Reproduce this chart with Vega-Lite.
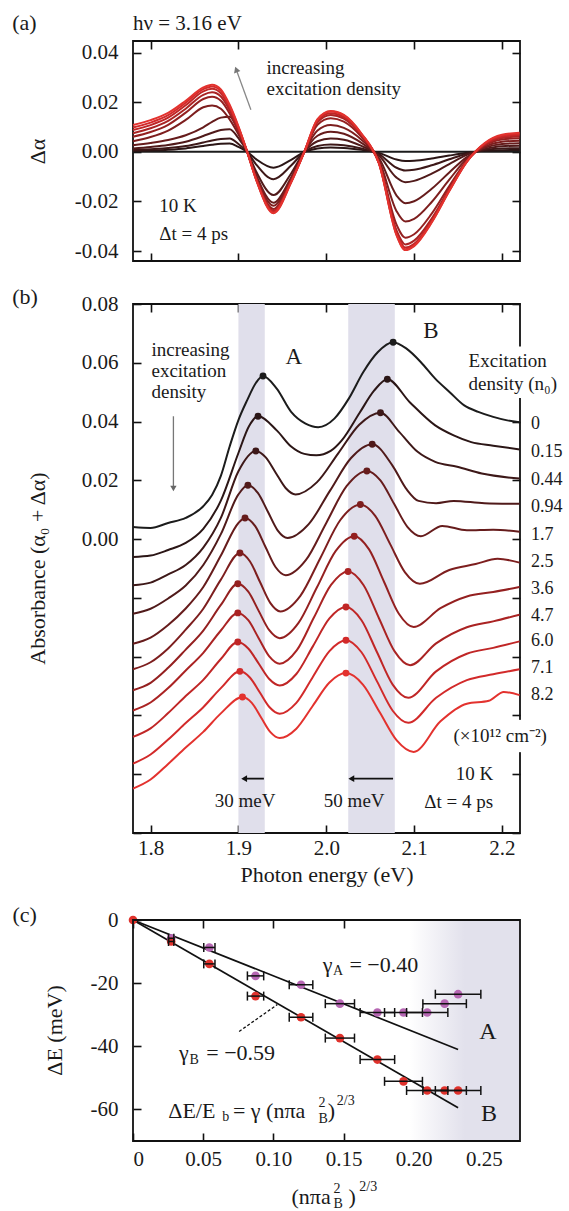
{
"$schema":"https://vega.github.io/schema/vega-lite/v6.json",
"autosize":{"type":"pad"},
"padding":{"left":11,"top":10,"right":5,"bottom":3},
"background":"white",
"config":{
"font":"Liberation Serif",
"view":{"stroke":"#111111","strokeWidth":1.8},
"axis":{"grid":false,"domain":false,"ticks":true,"tickColor":"#111111","tickWidth":1.6,"tickSize":-8,"labelFont":"Liberation Serif","labelFontSize":21,"labelColor":"#1a1a1a","titleFont":"Liberation Serif","titleFontSize":22,"titleFontWeight":"normal","titleColor":"#1a1a1a"},
"axisLeft":{"labelPadding":23},
"axisBottom":{"labelPadding":12},
"text":{"font":"Liberation Serif","color":"#1a1a1a"}
},
"datasets":{
"a":[
{"k":"0","x":1.78,"y":0},{"k":"0","x":2.2205,"y":0},
{"k":"0.15","x":1.78,"y":0.0003},{"k":"0.15","x":1.80,"y":0.00055},{"k":"0.15","x":1.82,"y":0.00086},{"k":"0.15","x":1.84,"y":0.00139},{"k":"0.15","x":1.86,"y":0.0024},{"k":"0.15","x":1.87,"y":0.0029},{"k":"0.15","x":1.88,"y":0.0033},{"k":"0.15","x":1.89,"y":0.0034},{"k":"0.15","x":1.90,"y":0.0020},{"k":"0.15","x":1.91,"y":0},{"k":"0.15","x":1.92,"y":-0.0029},{"k":"0.15","x":1.94,"y":-0.0064},{"k":"0.15","x":1.96,"y":-0.0032},{"k":"0.15","x":1.975,"y":0},{"k":"0.15","x":1.99,"y":0.0014},{"k":"0.15","x":2.005,"y":0.0018},{"k":"0.15","x":2.02,"y":0.0016},{"k":"0.15","x":2.04,"y":0.0008},{"k":"0.15","x":2.06,"y":-0.0004},{"k":"0.15","x":2.08,"y":-0.0031},{"k":"0.15","x":2.09,"y":-0.0037},{"k":"0.15","x":2.10,"y":-0.0036},{"k":"0.15","x":2.12,"y":-0.0027},{"k":"0.15","x":2.14,"y":-0.0015},{"k":"0.15","x":2.16,"y":-0.0004},{"k":"0.15","x":2.18,"y":0.0004},{"k":"0.15","x":2.20,"y":0.0007},{"k":"0.15","x":2.22,"y":0.0008},
{"k":"0.44","x":1.78,"y":0.0007},{"k":"0.44","x":1.80,"y":0.00108},{"k":"0.44","x":1.82,"y":0.00155},{"k":"0.44","x":1.84,"y":0.00235},{"k":"0.44","x":1.86,"y":0.0038},{"k":"0.44","x":1.87,"y":0.0046},{"k":"0.44","x":1.88,"y":0.0052},{"k":"0.44","x":1.89,"y":0.0054},{"k":"0.44","x":1.90,"y":0.0032},{"k":"0.44","x":1.91,"y":0},{"k":"0.44","x":1.92,"y":-0.0050},{"k":"0.44","x":1.94,"y":-0.0110},{"k":"0.44","x":1.96,"y":-0.0055},{"k":"0.44","x":1.975,"y":0},{"k":"0.44","x":1.99,"y":0.0024},{"k":"0.44","x":2.005,"y":0.0030},{"k":"0.44","x":2.02,"y":0.0027},{"k":"0.44","x":2.04,"y":0.00135},{"k":"0.44","x":2.06,"y":-0.0009},{"k":"0.44","x":2.08,"y":-0.0064},{"k":"0.44","x":2.09,"y":-0.0075},{"k":"0.44","x":2.10,"y":-0.0072},{"k":"0.44","x":2.12,"y":-0.0054},{"k":"0.44","x":2.14,"y":-0.0030},{"k":"0.44","x":2.16,"y":-0.00075},{"k":"0.44","x":2.18,"y":0.0007},{"k":"0.44","x":2.20,"y":0.00135},{"k":"0.44","x":2.22,"y":0.0015},
{"k":"0.94","x":1.78,"y":0.0014},{"k":"0.94","x":1.80,"y":0.0020},{"k":"0.94","x":1.82,"y":0.0028},{"k":"0.94","x":1.84,"y":0.0041},{"k":"0.94","x":1.86,"y":0.0064},{"k":"0.94","x":1.87,"y":0.0077},{"k":"0.94","x":1.88,"y":0.0088},{"k":"0.94","x":1.89,"y":0.0091},{"k":"0.94","x":1.90,"y":0.0055},{"k":"0.94","x":1.91,"y":0},{"k":"0.94","x":1.92,"y":-0.0078},{"k":"0.94","x":1.94,"y":-0.0174},{"k":"0.94","x":1.96,"y":-0.0087},{"k":"0.94","x":1.975,"y":0},{"k":"0.94","x":1.99,"y":0.0043},{"k":"0.94","x":2.005,"y":0.0054},{"k":"0.94","x":2.02,"y":0.0049},{"k":"0.94","x":2.04,"y":0.0024},{"k":"0.94","x":2.06,"y":-0.0015},{"k":"0.94","x":2.08,"y":-0.0104},{"k":"0.94","x":2.09,"y":-0.0122},{"k":"0.94","x":2.10,"y":-0.0117},{"k":"0.94","x":2.12,"y":-0.0088},{"k":"0.94","x":2.14,"y":-0.0049},{"k":"0.94","x":2.16,"y":-0.0012},{"k":"0.94","x":2.18,"y":0.0011},{"k":"0.94","x":2.20,"y":0.0023},{"k":"0.94","x":2.22,"y":0.0025},
{"k":"1.7","x":1.78,"y":0.0027},{"k":"1.7","x":1.80,"y":0.0036},{"k":"1.7","x":1.82,"y":0.0048},{"k":"1.7","x":1.84,"y":0.0067},{"k":"1.7","x":1.86,"y":0.0099},{"k":"1.7","x":1.87,"y":0.0121},{"k":"1.7","x":1.88,"y":0.0138},{"k":"1.7","x":1.89,"y":0.0142},{"k":"1.7","x":1.90,"y":0.0085},{"k":"1.7","x":1.91,"y":0},{"k":"1.7","x":1.92,"y":-0.0092},{"k":"1.7","x":1.94,"y":-0.0205},{"k":"1.7","x":1.96,"y":-0.0103},{"k":"1.7","x":1.975,"y":0},{"k":"1.7","x":1.99,"y":0.0065},{"k":"1.7","x":2.005,"y":0.0081},{"k":"1.7","x":2.02,"y":0.0073},{"k":"1.7","x":2.04,"y":0.0036},{"k":"1.7","x":2.06,"y":-0.0025},{"k":"1.7","x":2.08,"y":-0.0176},{"k":"1.7","x":2.09,"y":-0.0207},{"k":"1.7","x":2.10,"y":-0.0199},{"k":"1.7","x":2.12,"y":-0.0149},{"k":"1.7","x":2.14,"y":-0.0083},{"k":"1.7","x":2.16,"y":-0.0021},{"k":"1.7","x":2.18,"y":0.0016},{"k":"1.7","x":2.20,"y":0.0032},{"k":"1.7","x":2.22,"y":0.0035},
{"k":"2.5","x":1.78,"y":0.0043},{"k":"2.5","x":1.80,"y":0.0060},{"k":"2.5","x":1.82,"y":0.0086},{"k":"2.5","x":1.84,"y":0.0129},{"k":"2.5","x":1.86,"y":0.0180},{"k":"2.5","x":1.87,"y":0.0187},{"k":"2.5","x":1.88,"y":0.0174},{"k":"2.5","x":1.89,"y":0.0131},{"k":"2.5","x":1.90,"y":0.0071},{"k":"2.5","x":1.91,"y":0},{"k":"2.5","x":1.92,"y":-0.0098},{"k":"2.5","x":1.94,"y":-0.0217},{"k":"2.5","x":1.96,"y":-0.0109},{"k":"2.5","x":1.975,"y":0},{"k":"2.5","x":1.99,"y":0.0086},{"k":"2.5","x":2.005,"y":0.0108},{"k":"2.5","x":2.02,"y":0.0097},{"k":"2.5","x":2.04,"y":0.0049},{"k":"2.5","x":2.06,"y":-0.0034},{"k":"2.5","x":2.08,"y":-0.0239},{"k":"2.5","x":2.09,"y":-0.0281},{"k":"2.5","x":2.10,"y":-0.0270},{"k":"2.5","x":2.12,"y":-0.0202},{"k":"2.5","x":2.14,"y":-0.0112},{"k":"2.5","x":2.16,"y":-0.0028},{"k":"2.5","x":2.18,"y":0.0020},{"k":"2.5","x":2.20,"y":0.0041},{"k":"2.5","x":2.22,"y":0.0045},
{"k":"3.6","x":1.78,"y":0.0061},{"k":"3.6","x":1.80,"y":0.0080},{"k":"3.6","x":1.82,"y":0.0109},{"k":"3.6","x":1.84,"y":0.0158},{"k":"3.6","x":1.86,"y":0.0213},{"k":"3.6","x":1.87,"y":0.0222},{"k":"3.6","x":1.88,"y":0.0206},{"k":"3.6","x":1.89,"y":0.0155},{"k":"3.6","x":1.90,"y":0.0084},{"k":"3.6","x":1.91,"y":0},{"k":"3.6","x":1.92,"y":-0.0104},{"k":"3.6","x":1.94,"y":-0.0230},{"k":"3.6","x":1.96,"y":-0.0115},{"k":"3.6","x":1.975,"y":0},{"k":"3.6","x":1.99,"y":0.0109},{"k":"3.6","x":2.005,"y":0.0136},{"k":"3.6","x":2.02,"y":0.0122},{"k":"3.6","x":2.04,"y":0.0061},{"k":"3.6","x":2.06,"y":-0.0042},{"k":"3.6","x":2.08,"y":-0.0294},{"k":"3.6","x":2.09,"y":-0.0346},{"k":"3.6","x":2.10,"y":-0.0332},{"k":"3.6","x":2.12,"y":-0.0249},{"k":"3.6","x":2.14,"y":-0.0138},{"k":"3.6","x":2.16,"y":-0.0035},{"k":"3.6","x":2.18,"y":0.0025},{"k":"3.6","x":2.20,"y":0.0050},{"k":"3.6","x":2.22,"y":0.0055},
{"k":"4.7","x":1.78,"y":0.0075},{"k":"4.7","x":1.80,"y":0.0095},{"k":"4.7","x":1.82,"y":0.0125},{"k":"4.7","x":1.84,"y":0.0174},{"k":"4.7","x":1.86,"y":0.0230},{"k":"4.7","x":1.87,"y":0.0240},{"k":"4.7","x":1.88,"y":0.0223},{"k":"4.7","x":1.89,"y":0.0168},{"k":"4.7","x":1.90,"y":0.0091},{"k":"4.7","x":1.91,"y":0},{"k":"4.7","x":1.92,"y":-0.0107},{"k":"4.7","x":1.94,"y":-0.0237},{"k":"4.7","x":1.96,"y":-0.0119},{"k":"4.7","x":1.975,"y":0},{"k":"4.7","x":1.99,"y":0.0119},{"k":"4.7","x":2.005,"y":0.0149},{"k":"4.7","x":2.02,"y":0.0134},{"k":"4.7","x":2.04,"y":0.0067},{"k":"4.7","x":2.06,"y":-0.0045},{"k":"4.7","x":2.08,"y":-0.0317},{"k":"4.7","x":2.09,"y":-0.0373},{"k":"4.7","x":2.10,"y":-0.0358},{"k":"4.7","x":2.12,"y":-0.0269},{"k":"4.7","x":2.14,"y":-0.0149},{"k":"4.7","x":2.16,"y":-0.0037},{"k":"4.7","x":2.18,"y":0.0028},{"k":"4.7","x":2.20,"y":0.0056},{"k":"4.7","x":2.22,"y":0.0062},
{"k":"6.0","x":1.78,"y":0.0088},{"k":"6.0","x":1.80,"y":0.0108},{"k":"6.0","x":1.82,"y":0.0138},{"k":"6.0","x":1.84,"y":0.0188},{"k":"6.0","x":1.86,"y":0.0244},{"k":"6.0","x":1.87,"y":0.0254},{"k":"6.0","x":1.88,"y":0.0236},{"k":"6.0","x":1.89,"y":0.0178},{"k":"6.0","x":1.90,"y":0.0097},{"k":"6.0","x":1.91,"y":0},{"k":"6.0","x":1.92,"y":-0.0108},{"k":"6.0","x":1.94,"y":-0.0240},{"k":"6.0","x":1.96,"y":-0.0120},{"k":"6.0","x":1.975,"y":0},{"k":"6.0","x":1.99,"y":0.0125},{"k":"6.0","x":2.005,"y":0.0156},{"k":"6.0","x":2.02,"y":0.0140},{"k":"6.0","x":2.04,"y":0.0070},{"k":"6.0","x":2.06,"y":-0.0046},{"k":"6.0","x":2.08,"y":-0.0328},{"k":"6.0","x":2.09,"y":-0.0386},{"k":"6.0","x":2.10,"y":-0.0371},{"k":"6.0","x":2.12,"y":-0.0278},{"k":"6.0","x":2.14,"y":-0.0154},{"k":"6.0","x":2.16,"y":-0.0039},{"k":"6.0","x":2.18,"y":0.0031},{"k":"6.0","x":2.20,"y":0.0061},{"k":"6.0","x":2.22,"y":0.0068},
{"k":"7.1","x":1.78,"y":0.0098},{"k":"7.1","x":1.80,"y":0.0118},{"k":"7.1","x":1.82,"y":0.0148},{"k":"7.1","x":1.84,"y":0.0198},{"k":"7.1","x":1.86,"y":0.0253},{"k":"7.1","x":1.87,"y":0.0264},{"k":"7.1","x":1.88,"y":0.0246},{"k":"7.1","x":1.89,"y":0.0185},{"k":"7.1","x":1.90,"y":0.0100},{"k":"7.1","x":1.91,"y":0},{"k":"7.1","x":1.92,"y":-0.0110},{"k":"7.1","x":1.94,"y":-0.0244},{"k":"7.1","x":1.96,"y":-0.0122},{"k":"7.1","x":1.975,"y":0},{"k":"7.1","x":1.99,"y":0.0130},{"k":"7.1","x":2.005,"y":0.0163},{"k":"7.1","x":2.02,"y":0.0147},{"k":"7.1","x":2.04,"y":0.0073},{"k":"7.1","x":2.06,"y":-0.0047},{"k":"7.1","x":2.08,"y":-0.0334},{"k":"7.1","x":2.09,"y":-0.0393},{"k":"7.1","x":2.10,"y":-0.0377},{"k":"7.1","x":2.12,"y":-0.0283},{"k":"7.1","x":2.14,"y":-0.0157},{"k":"7.1","x":2.16,"y":-0.0039},{"k":"7.1","x":2.18,"y":0.0033},{"k":"7.1","x":2.20,"y":0.0066},{"k":"7.1","x":2.22,"y":0.0073},
{"k":"8.2","x":1.78,"y":0.0108},{"k":"8.2","x":1.80,"y":0.0128},{"k":"8.2","x":1.82,"y":0.0157},{"k":"8.2","x":1.84,"y":0.0206},{"k":"8.2","x":1.86,"y":0.0260},{"k":"8.2","x":1.87,"y":0.0271},{"k":"8.2","x":1.88,"y":0.0252},{"k":"8.2","x":1.89,"y":0.0190},{"k":"8.2","x":1.90,"y":0.0103},{"k":"8.2","x":1.91,"y":0},{"k":"8.2","x":1.92,"y":-0.0111},{"k":"8.2","x":1.94,"y":-0.0247},{"k":"8.2","x":1.96,"y":-0.0124},{"k":"8.2","x":1.975,"y":0},{"k":"8.2","x":1.99,"y":0.0132},{"k":"8.2","x":2.005,"y":0.0165},{"k":"8.2","x":2.02,"y":0.0149},{"k":"8.2","x":2.04,"y":0.0074},{"k":"8.2","x":2.06,"y":-0.0048},{"k":"8.2","x":2.08,"y":-0.0337},{"k":"8.2","x":2.09,"y":-0.0396},{"k":"8.2","x":2.10,"y":-0.0380},{"k":"8.2","x":2.12,"y":-0.0285},{"k":"8.2","x":2.14,"y":-0.0158},{"k":"8.2","x":2.16,"y":-0.0040},{"k":"8.2","x":2.18,"y":0.0035},{"k":"8.2","x":2.20,"y":0.0069},{"k":"8.2","x":2.22,"y":0.0077}
],
"b":[
{"k":"0","x":1.78,"y":0.0041},{"k":"0","x":1.80,"y":0.0038},{"k":"0","x":1.82,"y":0.0055},{"k":"0","x":1.84,"y":0.0072},{"k":"0","x":1.86,"y":0.0112},{"k":"0","x":1.87,"y":0.0150},{"k":"0","x":1.88,"y":0.0215},{"k":"0","x":1.89,"y":0.0315},{"k":"0","x":1.90,"y":0.0405},{"k":"0","x":1.91,"y":0.0473},{"k":"0","x":1.92,"y":0.0532},{"k":"0","x":1.928,"y":0.0555},{"k":"0","x":1.9436,"y":0.0512},{"k":"0","x":1.96,"y":0.0433},{"k":"0","x":1.9764,"y":0.0393},{"k":"0","x":1.9908,"y":0.0381},{"k":"0","x":2.0092,"y":0.0410},{"k":"0","x":2.0256,"y":0.0478},{"k":"0","x":2.042,"y":0.0568},{"k":"0","x":2.0585,"y":0.0636},{"k":"0","x":2.076,"y":0.0670},{"k":"0","x":2.0913,"y":0.0648},{"k":"0","x":2.1077,"y":0.0602},{"k":"0","x":2.124,"y":0.0546},{"k":"0","x":2.1405,"y":0.0500},{"k":"0","x":2.157,"y":0.0455},{"k":"0","x":2.173,"y":0.0433},{"k":"0","x":2.19,"y":0.0416},{"k":"0","x":2.206,"y":0.0404},{"k":"0","x":2.22,"y":0.0398},
{"k":"0.15","x":1.78,"y":-0.0061},{"k":"0.15","x":1.80,"y":-0.0056},{"k":"0.15","x":1.82,"y":-0.0037},{"k":"0.15","x":1.84,"y":-0.0013},{"k":"0.15","x":1.86,"y":0.0035},{"k":"0.15","x":1.88,"y":0.0131},{"k":"0.15","x":1.90,"y":0.0293},{"k":"0.15","x":1.912,"y":0.0384},{"k":"0.15","x":1.9223,"y":0.0418},{"k":"0.15","x":1.9436,"y":0.0370},{"k":"0.15","x":1.96,"y":0.0315},{"k":"0.15","x":1.975,"y":0.0290},{"k":"0.15","x":1.9887,"y":0.0285},{"k":"0.15","x":2.005,"y":0.0300},{"k":"0.15","x":2.0174,"y":0.0335},{"k":"0.15","x":2.038,"y":0.0430},{"k":"0.15","x":2.0544,"y":0.0505},{"k":"0.15","x":2.0695,"y":0.0544},{"k":"0.15","x":2.095,"y":0.0466},{"k":"0.15","x":2.124,"y":0.0387},{"k":"0.15","x":2.145,"y":0.0353},{"k":"0.15","x":2.165,"y":0.0330},{"k":"0.15","x":2.19,"y":0.0318},{"k":"0.15","x":2.22,"y":0.0305},
{"k":"0.44","x":1.78,"y":-0.0157},{"k":"0.44","x":1.80,"y":-0.0148},{"k":"0.44","x":1.82,"y":-0.0120},{"k":"0.44","x":1.84,"y":-0.0088},{"k":"0.44","x":1.86,"y":-0.0029},{"k":"0.44","x":1.88,"y":0.0072},{"k":"0.44","x":1.90,"y":0.0231},{"k":"0.44","x":1.9198,"y":0.0300},{"k":"0.44","x":1.9311,"y":0.0278},{"k":"0.44","x":1.9424,"y":0.0226},{"k":"0.44","x":1.9537,"y":0.0174},{"k":"0.44","x":1.965,"y":0.0152},{"k":"0.44","x":1.9892,"y":0.0193},{"k":"0.44","x":2.0134,"y":0.0291},{"k":"0.44","x":2.0375,"y":0.0389},{"k":"0.44","x":2.0617,"y":0.0430},{"k":"0.44","x":2.083,"y":0.0365},{"k":"0.44","x":2.104,"y":0.0297},{"k":"0.44","x":2.124,"y":0.0263},{"k":"0.44","x":2.149,"y":0.0246},{"k":"0.44","x":2.177,"y":0.0223},{"k":"0.44","x":2.22,"y":0.0206},
{"k":"0.94","x":1.78,"y":-0.0254},{"k":"0.94","x":1.80,"y":-0.0237},{"k":"0.94","x":1.82,"y":-0.0202},{"k":"0.94","x":1.84,"y":-0.0158},{"k":"0.94","x":1.86,"y":-0.0088},{"k":"0.94","x":1.88,"y":0.0017},{"k":"0.94","x":1.90,"y":0.0152},{"k":"0.94","x":1.9108,"y":0.0183},{"k":"0.94","x":1.9221,"y":0.0157},{"k":"0.94","x":1.9334,"y":0.0094},{"k":"0.94","x":1.9446,"y":0.0030},{"k":"0.94","x":1.9559,"y":0.0004},{"k":"0.94","x":1.98,"y":0.0051},{"k":"0.94","x":2.0041,"y":0.0164},{"k":"0.94","x":2.0282,"y":0.0276},{"k":"0.94","x":2.0523,"y":0.0323},{"k":"0.94","x":2.075,"y":0.0252},{"k":"0.94","x":2.0913,"y":0.0170},{"k":"0.94","x":2.105,"y":0.0130},{"k":"0.94","x":2.125,"y":0.0122},{"k":"0.94","x":2.145,"y":0.0130},{"k":"0.94","x":2.18,"y":0.0122},{"k":"0.94","x":2.22,"y":0.0120},
{"k":"1.7","x":1.78,"y":-0.0356},{"k":"1.7","x":1.80,"y":-0.0335},{"k":"1.7","x":1.82,"y":-0.0292},{"k":"1.7","x":1.84,"y":-0.0236},{"k":"1.7","x":1.86,"y":-0.0163},{"k":"1.7","x":1.88,"y":-0.0056},{"k":"1.7","x":1.90,"y":0.0055},{"k":"1.7","x":1.9075,"y":0.0072},{"k":"1.7","x":1.9191,"y":0.0044},{"k":"1.7","x":1.9307,"y":-0.0026},{"k":"1.7","x":1.9422,"y":-0.0095},{"k":"1.7","x":1.9538,"y":-0.0123},{"k":"1.7","x":1.9769,"y":-0.0071},{"k":"1.7","x":2.0,"y":0.0055},{"k":"1.7","x":2.0231,"y":0.0180},{"k":"1.7","x":2.0462,"y":0.0232},{"k":"1.7","x":2.0616,"y":0.0200},{"k":"1.7","x":2.077,"y":0.0121},{"k":"1.7","x":2.0923,"y":0.0042},{"k":"1.7","x":2.1077,"y":0.0010},{"k":"1.7","x":2.132,"y":0.0045},{"k":"1.7","x":2.16,"y":0.0030},{"k":"1.7","x":2.19,"y":0.0032},{"k":"1.7","x":2.22,"y":0.0025},
{"k":"2.5","x":1.78,"y":-0.0443},{"k":"2.5","x":1.80,"y":-0.0419},{"k":"2.5","x":1.82,"y":-0.0372},{"k":"2.5","x":1.84,"y":-0.0308},{"k":"2.5","x":1.86,"y":-0.0237},{"k":"2.5","x":1.88,"y":-0.0138},{"k":"2.5","x":1.9017,"y":-0.0047},{"k":"2.5","x":1.9132,"y":-0.0076},{"k":"2.5","x":1.9247,"y":-0.0147},{"k":"2.5","x":1.9362,"y":-0.0217},{"k":"2.5","x":1.9477,"y":-0.0246},{"k":"2.5","x":1.9705,"y":-0.0193},{"k":"2.5","x":1.9933,"y":-0.0064},{"k":"2.5","x":2.016,"y":0.0065},{"k":"2.5","x":2.0388,"y":0.0118},{"k":"2.5","x":2.0557,"y":0.0079},{"k":"2.5","x":2.0727,"y":-0.0017},{"k":"2.5","x":2.0896,"y":-0.0113},{"k":"2.5","x":2.1065,"y":-0.0152},{"k":"2.5","x":2.14,"y":-0.0105},{"k":"2.5","x":2.17,"y":-0.0085},{"k":"2.5","x":2.195,"y":-0.0067},{"k":"2.5","x":2.22,"y":-0.0080},
{"k":"3.6","x":1.78,"y":-0.0514},{"k":"3.6","x":1.80,"y":-0.0489},{"k":"3.6","x":1.82,"y":-0.0438},{"k":"3.6","x":1.84,"y":-0.0376},{"k":"3.6","x":1.86,"y":-0.0311},{"k":"3.6","x":1.88,"y":-0.0224},{"k":"3.6","x":1.8993,"y":-0.0152},{"k":"3.6","x":1.9112,"y":-0.0179},{"k":"3.6","x":1.9232,"y":-0.0245},{"k":"3.6","x":1.9351,"y":-0.0310},{"k":"3.6","x":1.947,"y":-0.0337},{"k":"3.6","x":1.9682,"y":-0.0286},{"k":"3.6","x":1.9894,"y":-0.0164},{"k":"3.6","x":2.0106,"y":-0.0041},{"k":"3.6","x":2.0318,"y":0.0010},{"k":"3.6","x":2.0487,"y":-0.0035},{"k":"3.6","x":2.0657,"y":-0.0145},{"k":"3.6","x":2.0826,"y":-0.0254},{"k":"3.6","x":2.0995,"y":-0.0299},{"k":"3.6","x":2.13,"y":-0.0235},{"k":"3.6","x":2.16,"y":-0.0195},{"k":"3.6","x":2.19,"y":-0.0180},{"k":"3.6","x":2.22,"y":-0.0163},
{"k":"4.7","x":1.78,"y":-0.0583},{"k":"4.7","x":1.80,"y":-0.0556},{"k":"4.7","x":1.82,"y":-0.0507},{"k":"4.7","x":1.84,"y":-0.0447},{"k":"4.7","x":1.86,"y":-0.0387},{"k":"4.7","x":1.88,"y":-0.0311},{"k":"4.7","x":1.8993,"y":-0.0251},{"k":"4.7","x":1.9112,"y":-0.0276},{"k":"4.7","x":1.9232,"y":-0.0338},{"k":"4.7","x":1.9351,"y":-0.0399},{"k":"4.7","x":1.947,"y":-0.0424},{"k":"4.7","x":1.9665,"y":-0.0378},{"k":"4.7","x":1.9859,"y":-0.0267},{"k":"4.7","x":2.0054,"y":-0.0156},{"k":"4.7","x":2.0248,"y":-0.0110},{"k":"4.7","x":2.0425,"y":-0.0157},{"k":"4.7","x":2.0601,"y":-0.0270},{"k":"4.7","x":2.0778,"y":-0.0382},{"k":"4.7","x":2.0954,"y":-0.0429},{"k":"4.7","x":2.125,"y":-0.0355},{"k":"4.7","x":2.16,"y":-0.0300},{"k":"4.7","x":2.19,"y":-0.0280},{"k":"4.7","x":2.22,"y":-0.0257},
{"k":"6.0","x":1.78,"y":-0.0673},{"k":"6.0","x":1.80,"y":-0.0644},{"k":"6.0","x":1.82,"y":-0.0592},{"k":"6.0","x":1.84,"y":-0.0534},{"k":"6.0","x":1.86,"y":-0.0479},{"k":"6.0","x":1.88,"y":-0.0408},{"k":"6.0","x":1.8993,"y":-0.0350},{"k":"6.0","x":1.9112,"y":-0.0372},{"k":"6.0","x":1.9232,"y":-0.0424},{"k":"6.0","x":1.9351,"y":-0.0476},{"k":"6.0","x":1.947,"y":-0.0498},{"k":"6.0","x":1.9659,"y":-0.0459},{"k":"6.0","x":1.9847,"y":-0.0365},{"k":"6.0","x":2.0036,"y":-0.0270},{"k":"6.0","x":2.0224,"y":-0.0231},{"k":"6.0","x":2.0401,"y":-0.0276},{"k":"6.0","x":2.0579,"y":-0.0386},{"k":"6.0","x":2.0756,"y":-0.0495},{"k":"6.0","x":2.0933,"y":-0.0540},{"k":"6.0","x":2.125,"y":-0.0450},{"k":"6.0","x":2.16,"y":-0.0390},{"k":"6.0","x":2.19,"y":-0.0370},{"k":"6.0","x":2.22,"y":-0.0348},
{"k":"7.1","x":1.78,"y":-0.0764},{"k":"7.1","x":1.80,"y":-0.0733},{"k":"7.1","x":1.82,"y":-0.0682},{"k":"7.1","x":1.84,"y":-0.0626},{"k":"7.1","x":1.86,"y":-0.0572},{"k":"7.1","x":1.88,"y":-0.0507},{"k":"7.1","x":1.9017,"y":-0.0450},{"k":"7.1","x":1.913,"y":-0.0471},{"k":"7.1","x":1.9244,"y":-0.0522},{"k":"7.1","x":1.9357,"y":-0.0573},{"k":"7.1","x":1.947,"y":-0.0594},{"k":"7.1","x":1.9659,"y":-0.0557},{"k":"7.1","x":1.9847,"y":-0.0469},{"k":"7.1","x":2.0036,"y":-0.0381},{"k":"7.1","x":2.0224,"y":-0.0344},{"k":"7.1","x":2.0401,"y":-0.0385},{"k":"7.1","x":2.0579,"y":-0.0485},{"k":"7.1","x":2.0756,"y":-0.0584},{"k":"7.1","x":2.0933,"y":-0.0625},{"k":"7.1","x":2.125,"y":-0.0540},{"k":"7.1","x":2.16,"y":-0.0480},{"k":"7.1","x":2.19,"y":-0.0460},{"k":"7.1","x":2.22,"y":-0.0443},
{"k":"8.2","x":1.78,"y":-0.0849},{"k":"8.2","x":1.80,"y":-0.0818},{"k":"8.2","x":1.82,"y":-0.0765},{"k":"8.2","x":1.84,"y":-0.0709},{"k":"8.2","x":1.86,"y":-0.0656},{"k":"8.2","x":1.88,"y":-0.0593},{"k":"8.2","x":1.9046,"y":-0.0537},{"k":"8.2","x":1.9152,"y":-0.0557},{"k":"8.2","x":1.9258,"y":-0.0607},{"k":"8.2","x":1.9364,"y":-0.0657},{"k":"8.2","x":1.947,"y":-0.0677},{"k":"8.2","x":1.9659,"y":-0.0645},{"k":"8.2","x":1.9847,"y":-0.0567},{"k":"8.2","x":2.0036,"y":-0.0488},{"k":"8.2","x":2.0224,"y":-0.0456},{"k":"8.2","x":2.0417,"y":-0.0495},{"k":"8.2","x":2.061,"y":-0.0590},{"k":"8.2","x":2.0802,"y":-0.0685},{"k":"8.2","x":2.0995,"y":-0.0724},{"k":"8.2","x":2.13,"y":-0.0620},{"k":"8.2","x":2.16,"y":-0.0560},{"k":"8.2","x":2.185,"y":-0.0550},{"k":"8.2","x":2.202,"y":-0.0520},{"k":"8.2","x":2.22,"y":-0.0531}
],
"bm":[
{"k":"0","x":1.928,"y":0.0555},{"k":"0","x":2.0761,"y":0.0670},
{"k":"0.15","x":1.9223,"y":0.0418},{"k":"0.15","x":2.0695,"y":0.0544},
{"k":"0.44","x":1.9198,"y":0.0300},{"k":"0.44","x":2.0617,"y":0.0430},
{"k":"0.94","x":1.9108,"y":0.0183},{"k":"0.94","x":2.0523,"y":0.0323},
{"k":"1.7","x":1.9075,"y":0.0072},{"k":"1.7","x":2.0462,"y":0.0232},
{"k":"2.5","x":1.9017,"y":-0.0047},{"k":"2.5","x":2.0388,"y":0.0118},
{"k":"3.6","x":1.8993,"y":-0.0152},{"k":"3.6","x":2.0318,"y":0.0010},
{"k":"4.7","x":1.8993,"y":-0.0251},{"k":"4.7","x":2.0248,"y":-0.0110},
{"k":"6.0","x":1.8993,"y":-0.0350},{"k":"6.0","x":2.0224,"y":-0.0231},
{"k":"7.1","x":1.9017,"y":-0.0450},{"k":"7.1","x":2.0224,"y":-0.0344},
{"k":"8.2","x":1.9046,"y":-0.0537},{"k":"8.2","x":2.0224,"y":-0.0456}
],
"c":[
{"s":"A","x":0.0272,"y":-5.8,"lo":0.0253,"hi":0.0291},
{"s":"A","x":0.0544,"y":-8.7,"lo":0.0504,"hi":0.0584},
{"s":"A","x":0.0873,"y":-17.7,"lo":0.0815,"hi":0.0931},
{"s":"A","x":0.1197,"y":-20.5,"lo":0.1113,"hi":0.1281},
{"s":"A","x":0.1474,"y":-26.5,"lo":0.137,"hi":0.1578},
{"s":"A","x":0.1741,"y":-29.3,"lo":0.1618,"hi":0.1864},
{"s":"A","x":0.1927,"y":-29.3,"lo":0.1792,"hi":0.2062},
{"s":"A","x":0.2096,"y":-29.3,"lo":0.1949,"hi":0.2243},
{"s":"A","x":0.222,"y":-26.5,"lo":0.2065,"hi":0.2375},
{"s":"A","x":0.2316,"y":-23.5,"lo":0.2154,"hi":0.2478},
{"s":"B","x":0,"y":0,"lo":0,"hi":0},
{"s":"B","x":0.0272,"y":-6.8,"lo":0.0253,"hi":0.0291},
{"s":"B","x":0.0544,"y":-13.9,"lo":0.0504,"hi":0.0584},
{"s":"B","x":0.0873,"y":-24.1,"lo":0.0815,"hi":0.0931},
{"s":"B","x":0.1197,"y":-30.8,"lo":0.1113,"hi":0.1281},
{"s":"B","x":0.1474,"y":-37.4,"lo":0.137,"hi":0.1578},
{"s":"B","x":0.1741,"y":-44.2,"lo":0.1618,"hi":0.1864},
{"s":"B","x":0.1927,"y":-51.1,"lo":0.1792,"hi":0.2062},
{"s":"B","x":0.2096,"y":-54.0,"lo":0.1949,"hi":0.2243},
{"s":"B","x":0.222,"y":-54.0,"lo":0.2065,"hi":0.2375},
{"s":"B","x":0.2316,"y":-54.0,"lo":0.2154,"hi":0.2478}
],
"cfit":[
{"s":"A","x":0,"y":0},{"s":"A","x":0.2316,"y":-41.0},
{"s":"B","x":0,"y":0},{"s":"B","x":0.2316,"y":-59.5}
]
},
"bounds":"flush",
"spacing":43,
"resolve":{"scale":{"x":"independent","y":"independent"}},
"vconcat":[
{
"width":387,"height":220,
"layer":[
{"data":{"name":"a"},
"mark":{"type":"line","interpolate":"monotone","strokeWidth":2},
"encoding":{
"x":{"field":"x","type":"quantitative","scale":{"domain":[1.78,2.2205],"nice":false,"zero":false},"axis":{"orient":"bottom","values":[1.8,1.9,2.0,2.1,2.2],"labels":false,"title":null}},
"y":{"field":"y","type":"quantitative","scale":{"domain":[-0.044,0.0447],"nice":false,"zero":false},"axis":{"orient":"left","values":[-0.04,-0.02,0,0.02,0.04],"labelExpr":"datum.value < -0.0001 ? '-' + format(-datum.value, '.2f') : format(datum.value, '.2f')","title":"Δα","titleX":-96,"titleY":110,"titleBaseline":"middle"}},
"color":{"field":"k","type":"nominal","scale":{"domain":["0","0.15","0.44","0.94","1.7","2.5","3.6","4.7","6.0","7.1","8.2"],"range":["#1c1c1c","#2b1616","#3d1818","#501a1a","#661c1c","#7d1e1e","#942020","#aa2323","#c02626","#d22a2a","#e3322e"]},"legend":null}
}},
{"data":{"values":[{"t":"increasing","x":1.932,"y":0.0339},{"t":"excitation density","x":1.932,"y":0.0255},{"t":"10 K","x":1.81,"y":-0.022},{"t":"Δt = 4 ps","x":1.81,"y":-0.0332}]},
"mark":{"type":"text","align":"left","baseline":"middle","fontSize":19},
"encoding":{
"x":{"field":"x","type":"quantitative","scale":{"domain":[1.78,2.2205],"nice":false,"zero":false},"axis":{"orient":"top","values":[1.8,1.9,2.0,2.1,2.2],"labels":false,"title":null}},
"y":{"field":"y","type":"quantitative","scale":{"domain":[-0.044,0.0447],"nice":false,"zero":false},"axis":{"orient":"right","values":[-0.04,-0.02,0,0.02,0.04],"labels":false,"title":null}},
"text":{"field":"t"}
}},
{"data":{"values":[{"t":"hν = 3.16 eV","x":1.78,"y":0.0516}]},
"mark":{"type":"text","align":"left","baseline":"middle","fontSize":21},
"encoding":{"x":{"field":"x","type":"quantitative","axis":null},"y":{"field":"y","type":"quantitative","axis":null},"text":{"field":"t"}}},
{"data":{"values":[{"t":"(a)","x":1.6425,"y":0.052}]},
"mark":{"type":"text","align":"left","baseline":"middle","fontSize":22},
"encoding":{"x":{"field":"x","type":"quantitative","axis":null},"y":{"field":"y","type":"quantitative","axis":null},"text":{"field":"t"}}},
{"data":{"values":[{"x":1.9142,"y":0.017,"x2":1.8985,"y2":0.0322}]},
"mark":{"type":"rule","color":"#888888","strokeWidth":1.3},
"encoding":{"x":{"field":"x","type":"quantitative","axis":null},"y":{"field":"y","type":"quantitative","axis":null},"x2":{"field":"x2"},"y2":{"field":"y2"}}},
{"data":{"values":[{"x":1.8975,"y":0.0332}]},
"mark":{"type":"point","shape":"triangle-up","filled":true,"color":"#777777","size":45,"opacity":1,"angle":-20},
"encoding":{"x":{"field":"x","type":"quantitative","axis":null},"y":{"field":"y","type":"quantitative","axis":null}}}
]
},
{
"width":387,"height":529,
"layer":[
{"data":{"values":[{"x":1.90,"x2":1.93},{"x":2.025,"x2":2.078}]},
"mark":{"type":"rect","color":"#e0dfeb"},
"encoding":{"x":{"field":"x","type":"quantitative","scale":{"domain":[1.78,2.2205],"nice":false,"zero":false},"axis":null},"x2":{"field":"x2"},"y":{"datum":0.08,"type":"quantitative","scale":{"domain":[-0.1,0.08],"nice":false,"zero":false},"axis":null},"y2":{"datum":-0.1}}},
{"data":{"values":[{"x":2.212,"x2":2.232,"y":0.0655,"y2":0.048},{"x":2.212,"x2":2.232,"y":-0.0615,"y2":-0.0725}]},
"mark":{"type":"rect","color":"white"},
"encoding":{"x":{"field":"x","type":"quantitative","axis":null},"x2":{"field":"x2"},"y":{"field":"y","type":"quantitative","axis":null},"y2":{"field":"y2"}}},
{"data":{"name":"b"},
"mark":{"type":"line","interpolate":"monotone","strokeWidth":2},
"encoding":{
"x":{"field":"x","type":"quantitative","scale":{"domain":[1.78,2.2205],"nice":false,"zero":false},"axis":{"orient":"bottom","values":[1.8,1.9,2.0,2.1,2.2],"format":".1f","title":"Photon energy (eV)","titleX":193.5,"titleY":41,"titleBaseline":"middle"}},
"y":{"field":"y","type":"quantitative","scale":{"domain":[-0.1,0.08],"nice":false,"zero":false},"axis":{"orient":"left","values":[-0.1,-0.08,-0.06,-0.04,-0.02,0,0.02,0.04,0.06,0.08],"labelExpr":"datum.value < -0.0001 ? '' : format(datum.value, '.2f')","title":"Absorbance (α₀ + Δα)","titleX":-96,"titleY":264,"titleBaseline":"middle"}},
"color":{"field":"k","type":"nominal","scale":{"domain":["0","0.15","0.44","0.94","1.7","2.5","3.6","4.7","6.0","7.1","8.2"],"range":["#1c1c1c","#2b1616","#3d1818","#501a1a","#661c1c","#7d1e1e","#942020","#aa2323","#c02626","#d22a2a","#e3322e"]},"legend":null}
}},
{"data":{"name":"bm"},
"mark":{"type":"point","filled":true,"size":48,"opacity":1,"shape":"circle"},
"encoding":{
"x":{"field":"x","type":"quantitative","axis":null},
"y":{"field":"y","type":"quantitative","axis":null},
"color":{"field":"k","type":"nominal","legend":null}
}},
{"data":{"values":[{"t":"increasing","x":1.801,"y":0.0643},{"t":"excitation","x":1.801,"y":0.0571},{"t":"density","x":1.801,"y":0.0502},{"t":"Excitation","x":2.162,"y":0.0605},{"t":"density (n₀)","x":2.162,"y":0.0529}]},
"mark":{"type":"text","align":"left","baseline":"middle","fontSize":19},
"encoding":{
"x":{"field":"x","type":"quantitative","scale":{"domain":[1.78,2.2205],"nice":false,"zero":false},"axis":{"orient":"top","values":[1.8,1.9,2.0,2.1,2.2],"labels":false,"title":null}},
"y":{"field":"y","type":"quantitative","scale":{"domain":[-0.1,0.08],"nice":false,"zero":false},"axis":{"orient":"right","values":[-0.1,-0.08,-0.06,-0.04,-0.02,0,0.02,0.04,0.06,0.08],"labels":false,"title":null}},
"text":{"field":"t"}
}},
{"data":{"values":[{"t":"0","y":0.0392},{"t":"0.15","y":0.0298},{"t":"0.44","y":0.0200},{"t":"0.94","y":0.0110},{"t":"1.7","y":0.0014},{"t":"2.5","y":-0.0077},{"t":"3.6","y":-0.0169},{"t":"4.7","y":-0.026},{"t":"6.0","y":-0.0345},{"t":"7.1","y":-0.0438},{"t":"8.2","y":-0.0531}]},
"mark":{"type":"text","align":"left","baseline":"middle","fontSize":18},
"encoding":{"x":{"datum":2.233,"type":"quantitative","axis":null},"y":{"field":"y","type":"quantitative","axis":null},"text":{"field":"t"}}},
{"data":{"values":[{"t":"(×10¹² cm⁻²)","x":2.198,"y":-0.067},{"t":"30 meV","x":1.9075,"y":-0.0892},{"t":"50 meV","x":2.0318,"y":-0.0892}]},
"mark":{"type":"text","align":"center","baseline":"middle","fontSize":19},
"encoding":{"x":{"field":"x","type":"quantitative","axis":null},"y":{"field":"y","type":"quantitative","axis":null},"text":{"field":"t"}}},
{"data":{"values":[{"t":"A","x":1.963,"y":0.0619},{"t":"B","x":2.119,"y":0.0707}]},
"mark":{"type":"text","align":"center","baseline":"middle","fontSize":23},
"encoding":{"x":{"field":"x","type":"quantitative","axis":null},"y":{"field":"y","type":"quantitative","axis":null},"text":{"field":"t"}}},
{"data":{"values":[{"t":"10 K","x":2.19,"y":-0.0798},{"t":"Δt = 4 ps","x":2.19,"y":-0.0894}]},
"mark":{"type":"text","align":"right","baseline":"middle","fontSize":19},
"encoding":{"x":{"field":"x","type":"quantitative","axis":null},"y":{"field":"y","type":"quantitative","axis":null},"text":{"field":"t"}}},
{"data":{"values":[{"t":"(b)","x":1.6425,"y":0.0824}]},
"mark":{"type":"text","align":"left","baseline":"middle","fontSize":22},
"encoding":{"x":{"field":"x","type":"quantitative","axis":null},"y":{"field":"y","type":"quantitative","axis":null},"text":{"field":"t"}}},
{"data":{"values":[{"x":1.826,"y":0.0418,"x2":1.826,"y2":0.0175}]},
"mark":{"type":"rule","color":"#777777","strokeWidth":1.3},
"encoding":{"x":{"field":"x","type":"quantitative","axis":null},"y":{"field":"y","type":"quantitative","axis":null},"x2":{"field":"x2"},"y2":{"field":"y2"}}},
{"data":{"values":[{"x":1.826,"y":0.0172}]},
"mark":{"type":"point","shape":"triangle-down","filled":true,"color":"#666666","size":40,"opacity":1},
"encoding":{"x":{"field":"x","type":"quantitative","axis":null},"y":{"field":"y","type":"quantitative","axis":null}}},
{"data":{"values":[{"x":1.929,"y":-0.0815,"x2":1.907,"y2":-0.0815},{"x":2.076,"y":-0.0815,"x2":2.029,"y2":-0.0815}]},
"mark":{"type":"rule","color":"#111111","strokeWidth":1.8},
"encoding":{"x":{"field":"x","type":"quantitative","axis":null},"y":{"field":"y","type":"quantitative","axis":null},"x2":{"field":"x2"},"y2":{"field":"y2"}}},
{"data":{"values":[{"x":1.9065,"y":-0.0815},{"x":2.0285,"y":-0.0815}]},
"mark":{"type":"point","shape":"triangle-left","filled":true,"color":"#111111","size":45,"opacity":1},
"encoding":{"x":{"field":"x","type":"quantitative","axis":null},"y":{"field":"y","type":"quantitative","axis":null}}}
]
},
{
"width":387,"height":265,
"view":{"stroke":null},
"layer":[
{"data":{"values":[{"x":0.197,"x2":0.2757}]},
"mark":{"type":"rect","fill":{"gradient":"linear","x1":0,"y1":0,"x2":1,"y2":0,"stops":[{"offset":0,"color":"#ffffff"},{"offset":0.5,"color":"#e2e1ec"},{"offset":1,"color":"#e2e1ec"}]}},
"encoding":{"x":{"field":"x","type":"quantitative","scale":{"domain":[0,0.2757],"nice":false,"zero":false},"axis":null},"x2":{"field":"x2"},"y":{"datum":0,"type":"quantitative","scale":{"domain":[-70,13.94],"nice":false,"zero":false},"axis":null},"y2":{"datum":-70}}},
{"data":{"name":"cfit"},
"mark":{"type":"line","color":"#111111","strokeWidth":1.7},
"encoding":{
"x":{"field":"x","type":"quantitative","scale":{"domain":[0,0.2757],"nice":false,"zero":false},"axis":{"orient":"bottom","values":[0,0.05,0.1,0.15,0.2,0.25],"labelExpr":"datum.value == 0 ? '0' : format(datum.value, '.2f')","labelPadding":15,"title":null}},
"y":{"field":"y","type":"quantitative","scale":{"domain":[-70,13.94],"nice":false,"zero":false},"axis":{"orient":"left","values":[-60,-40,-20,0],"labelExpr":"datum.value < 0 ? '-' + format(-datum.value, 'd') : '0'","title":"ΔE (meV)","titleX":-79,"titleY":154,"titleBaseline":"middle"}},
"detail":{"field":"s"}
}},
{"data":{"name":"c"},"transform":[{"filter":"datum.s == 'A'"}],
"mark":{"type":"point","filled":true,"size":75,"opacity":1,"color":"#b667b3"},
"encoding":{"x":{"field":"x","type":"quantitative","axis":null},"y":{"field":"y","type":"quantitative","axis":null}}},
{"data":{"name":"c"},"transform":[{"filter":"datum.s == 'B'"}],
"mark":{"type":"point","filled":true,"size":75,"opacity":1,"color":"#e0322c"},
"encoding":{
"x":{"field":"x","type":"quantitative","scale":{"domain":[0,0.2757],"nice":false,"zero":false},"axis":{"orient":"top","offset":-44,"values":[0,0.05,0.1,0.15,0.2,0.25],"labels":false,"title":null}},
"y":{"field":"y","type":"quantitative","scale":{"domain":[-70,13.94],"nice":false,"zero":false},"axis":{"orient":"right","values":[-60,-40,-20,0],"ticks":false,"labels":false,"title":null}}
}},
{"data":{"name":"c"},"transform":[{"filter":"datum.x > 0"}],
"mark":{"type":"rule","color":"#111111","strokeWidth":1.5},
"encoding":{"x":{"field":"lo","type":"quantitative","axis":null},"x2":{"field":"hi"},"y":{"field":"y","type":"quantitative","axis":null}}},
{"data":{"name":"c"},"transform":[{"filter":"datum.x > 0"}],
"mark":{"type":"tick","orient":"vertical","color":"#111111","size":9,"thickness":1.5,"opacity":1},
"encoding":{"x":{"field":"lo","type":"quantitative","axis":null},"y":{"field":"y","type":"quantitative","axis":null}}},
{"data":{"name":"c"},"transform":[{"filter":"datum.x > 0"}],
"mark":{"type":"tick","orient":"vertical","color":"#111111","size":9,"thickness":1.5,"opacity":1},
"encoding":{"x":{"field":"hi","type":"quantitative","axis":null},"y":{"field":"y","type":"quantitative","axis":null}}},
{"data":{"values":[{"x":0.0756,"y":-35.3,"x2":0.1028,"y2":-26.8}]},
"mark":{"type":"rule","color":"#111111","strokeWidth":1.3,"strokeDash":[3,2]},
"encoding":{"x":{"field":"x","type":"quantitative","axis":null},"y":{"field":"y","type":"quantitative","axis":null},"x2":{"field":"x2"},"y2":{"field":"y2"}}},
{"data":{"values":[{"t":"γ","x":0.1352,"y":-14.2},{"t":"= −0.40","x":0.1542,"y":-14.2},{"t":"γ","x":0.0328,"y":-42.1},{"t":"= −0.59","x":0.0522,"y":-42.1},{"t":"ΔE/E","x":0.0251,"y":-60.5},{"t":"= γ (nπa","x":0.0712,"y":-60.5},{"t":")","x":0.1387,"y":-60.5},{"t":"(nπa","x":0.1129,"y":-87.8},{"t":")","x":0.1535,"y":-87.8}]},
"mark":{"type":"text","align":"left","baseline":"middle","fontSize":22},
"encoding":{"x":{"field":"x","type":"quantitative","axis":null},"y":{"field":"y","type":"quantitative","axis":null},"text":{"field":"t"}}},
{"data":{"values":[{"t":"A","x":0.1425,"y":-16.3},{"t":"B","x":0.0402,"y":-44.2},{"t":"b","x":0.0635,"y":-62.5},{"t":"2","x":0.1322,"y":-58.0},{"t":"B","x":0.1322,"y":-63.0},{"t":"2/3","x":0.1452,"y":-57.2},{"t":"2","x":0.1428,"y":-85.3},{"t":"B","x":0.1428,"y":-90.0},{"t":"2/3","x":0.1612,"y":-84.5}]},
"mark":{"type":"text","align":"left","baseline":"middle","fontSize":14},
"encoding":{"x":{"field":"x","type":"quantitative","axis":null},"y":{"field":"y","type":"quantitative","axis":null},"text":{"field":"t"}}},
{"data":{"values":[{"t":"A","x":0.2528,"y":-35.5},{"t":"B","x":0.2536,"y":-61.4}]},
"mark":{"type":"text","align":"center","baseline":"middle","fontSize":24},
"encoding":{"x":{"field":"x","type":"quantitative","axis":null},"y":{"field":"y","type":"quantitative","axis":null},"text":{"field":"t"}}},
{"data":{"values":[{"t":"(c)","x":-0.0859,"y":1.6}]},
"mark":{"type":"text","align":"left","baseline":"middle","fontSize":22},
"encoding":{"x":{"field":"x","type":"quantitative","axis":null},"y":{"field":"y","type":"quantitative","axis":null},"text":{"field":"t"}}},
{"data":{"values":[{"x":0,"x2":0.2757,"y":0,"y2":-70}]},
"mark":{"type":"rect","fillOpacity":0,"stroke":"#111111","strokeWidth":1.8},
"encoding":{"x":{"field":"x","type":"quantitative","axis":null},"x2":{"field":"x2"},"y":{"field":"y","type":"quantitative","axis":null},"y2":{"field":"y2"}}}
]
}
]
}
